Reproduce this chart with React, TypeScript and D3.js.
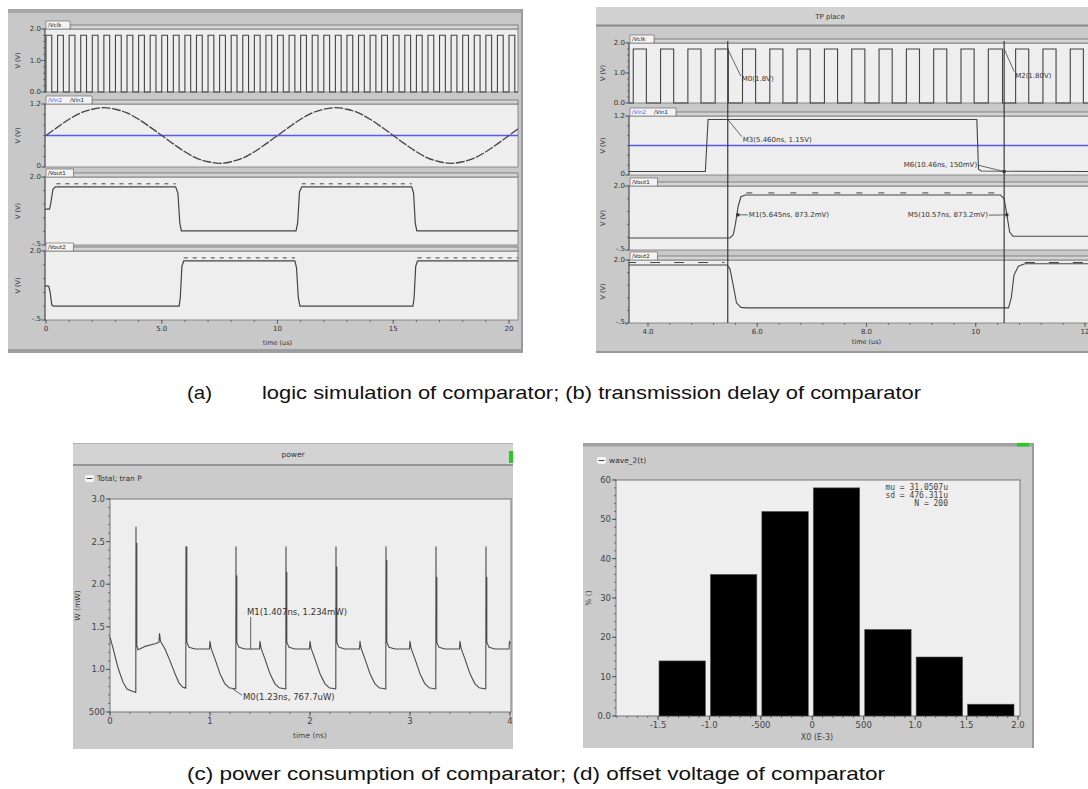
import React from "react";
import * as d3 from "d3";

type P = [number, number];
type Tick = [number, string];

// ---------------- (a) logic simulation ----------------
const clkPulsesA: P[] = [
  [0, 0.25], [0.5, 0.75], [1, 1.25], [1.5, 1.75], [2, 2.25], [2.5, 2.75], [3, 3.25], [3.5, 3.75],
  [4, 4.25], [4.5, 4.75], [5, 5.25], [5.5, 5.75], [6, 6.25], [6.5, 6.75], [7, 7.25], [7.5, 7.75],
  [8, 8.25], [8.5, 8.75], [9, 9.25], [9.5, 9.75], [10, 10.25], [10.5, 10.75], [11, 11.25], [11.5, 11.75],
  [12, 12.25], [12.5, 12.75], [13, 13.25], [13.5, 13.75], [14, 14.25], [14.5, 14.75], [15, 15.25], [15.5, 15.75],
  [16, 16.25], [16.5, 16.75], [17, 17.25], [17.5, 17.75], [18, 18.25], [18.5, 18.75], [19, 19.25], [19.5, 19.75],
  [20, 20.25],
];
const vinA: P[] = [
  [0, 0.6], [0.5, 0.76], [1, 0.91], [1.5, 1.03], [2, 1.1], [2.5, 1.13], [3, 1.1], [3.5, 1.03], [4, 0.91], [4.5, 0.76],
  [5, 0.6], [5.5, 0.44], [6, 0.29], [6.5, 0.17], [7, 0.1], [7.5, 0.07], [8, 0.1], [8.5, 0.17], [9, 0.29], [9.5, 0.44],
  [10, 0.6], [10.5, 0.76], [11, 0.91], [11.5, 1.03], [12, 1.1], [12.5, 1.13], [13, 1.1], [13.5, 1.03], [14, 0.91], [14.5, 0.76],
  [15, 0.6], [15.5, 0.44], [16, 0.29], [16.5, 0.17], [17, 0.1], [17.5, 0.07], [18, 0.1], [18.5, 0.17], [19, 0.29], [19.5, 0.44],
  [20, 0.6], [20.4, 0.73],
];
const vrefA = 0.6;
const vout1A: P[] = [
  [-0.1, 0.82], [0.15, 0.82], [0.2, 1.0], [0.3, 1.55], [0.4, 1.64], [5.6, 1.64], [5.7, 1.4], [5.78, 0.3], [5.85, 0.02],
  [10.8, 0.02], [10.87, 0.3], [10.95, 1.45], [11.05, 1.64], [15.8, 1.64], [15.88, 1.4], [15.95, 0.3], [16.02, 0.02], [20.5, 0.02],
];
const vout1RippleA: P[] = [[0.45, 5.6], [11.05, 15.8]];
const vout2A: P[] = [
  [-0.1, 0.75], [0.12, 0.72], [0.18, 0.5], [0.25, 0.05], [0.32, 0.0], [5.75, 0.0], [5.8, 0.3], [5.87, 1.45], [5.95, 1.64],
  [10.75, 1.64], [10.82, 1.4], [10.9, 0.3], [10.97, 0.0], [15.85, 0.0], [15.9, 0.3], [15.97, 1.45], [16.05, 1.64], [20.5, 1.64],
];
const vout2RippleA: P[] = [[5.95, 10.75], [16.05, 20.5]];
const xTicksA: Tick[] = [[0, "0"], [5, "5.0"], [10, "10"], [15, "15"], [20, "20"]];

// ---------------- (b) transmission delay ----------------
const clkPulsesB: P[] = [
  [3.73, 3.97], [4.23, 4.47], [4.73, 4.97], [5.23, 5.47], [5.73, 5.97], [6.23, 6.47], [6.73, 6.97], [7.23, 7.47],
  [7.73, 7.97], [8.23, 8.47], [8.73, 8.97], [9.23, 9.47], [9.73, 9.97], [10.23, 10.49], [10.73, 10.97], [11.23, 11.47],
  [11.73, 11.97], [12.23, 12.47],
];
const vinB: P[] = [
  [3.5, 0.07], [5.05, 0.07], [5.1, 1.13], [10.02, 1.13], [10.05, 0.12], [10.1, 0.08], [12.5, 0.07],
];
const vrefB = 0.6;
const vout1B: P[] = [
  [3.5, -0.03], [5.5, -0.03], [5.56, 0.1], [5.6, 0.5], [5.65, 1.2], [5.7, 1.58], [5.78, 1.65], [10.45, 1.65],
  [10.52, 1.5], [10.57, 0.87], [10.62, 0.2], [10.68, 0.04], [12.5, 0.04],
];
const vout1RippleB: P[] = [[5.8, 10.45]];
const vout2B: P[] = [
  [3.5, 1.8], [5.45, 1.8], [5.5, 1.65], [5.56, 1.0], [5.62, 0.3], [5.7, 0.12], [5.8, 0.1], [10.6, 0.1],
  [10.65, 0.5], [10.7, 1.4], [10.78, 1.75], [10.9, 1.85], [12.5, 1.85],
];
const vout2RippleB: P[] = [[3.6, 5.4], [10.9, 12.5]];
const cursorsB = [5.46, 10.52];
const xTicksB: Tick[] = [[4, "4.0"], [6, "6.0"], [8, "8.0"], [10, "10"], [12, "12"]];

// ---------------- (c) power consumption ----------------
const powerPts: P[] = [
  [0, 1.38], [0.03, 1.25], [0.08, 1.02], [0.13, 0.85], [0.17, 0.77], [0.21, 0.75], [0.258, 0.73],
  [0.26, 2.67], [0.26, 2.48], [0.268, 2.48], [0.268, 1.28], [0.28, 1.23], [0.35, 1.27], [0.45, 1.3], [0.49, 1.32], [0.495, 1.42], [0.505, 1.33], [0.55, 1.24], [0.6, 1.1], [0.65, 0.95], [0.69, 0.84], [0.73, 0.79], [0.758, 0.78],
  [0.76, 2.44], [0.76, 2.44], [0.768, 2.44], [0.768, 1.32], [0.79, 1.26], [0.85, 1.24], [0.995, 1.24], [1.0, 1.33], [1.01, 1.25], [1.05, 1.12], [1.1, 0.95], [1.15, 0.83], [1.19, 0.785], [1.258, 0.77],
  [1.26, 2.44], [1.26, 2.1], [1.268, 2.1], [1.268, 1.32], [1.29, 1.26], [1.35, 1.24], [1.495, 1.24], [1.5, 1.33], [1.51, 1.25], [1.55, 1.12], [1.6, 0.95], [1.65, 0.83], [1.69, 0.785], [1.758, 0.77],
  [1.76, 2.44], [1.76, 2.14], [1.768, 2.14], [1.768, 1.32], [1.79, 1.26], [1.85, 1.24], [1.995, 1.24], [2.0, 1.33], [2.01, 1.25], [2.05, 1.12], [2.1, 0.95], [2.15, 0.83], [2.19, 0.785], [2.258, 0.77],
  [2.26, 2.44], [2.26, 2.2], [2.268, 2.2], [2.268, 1.32], [2.29, 1.26], [2.35, 1.24], [2.495, 1.24], [2.5, 1.33], [2.51, 1.25], [2.55, 1.12], [2.6, 0.95], [2.65, 0.83], [2.69, 0.785], [2.758, 0.77],
  [2.76, 2.44], [2.76, 2.28], [2.768, 2.28], [2.768, 1.32], [2.79, 1.26], [2.85, 1.24], [2.995, 1.24], [3.0, 1.33], [3.01, 1.25], [3.05, 1.12], [3.1, 0.95], [3.15, 0.83], [3.19, 0.785], [3.258, 0.77],
  [3.26, 2.44], [3.26, 2.08], [3.268, 2.08], [3.268, 1.32], [3.29, 1.26], [3.35, 1.24], [3.495, 1.24], [3.5, 1.33], [3.51, 1.25], [3.55, 1.12], [3.6, 0.95], [3.65, 0.83], [3.69, 0.785], [3.758, 0.77],
  [3.76, 2.44], [3.76, 2.08], [3.768, 2.08], [3.768, 1.32], [3.79, 1.26], [3.85, 1.24], [3.99, 1.24], [3.995, 1.33], [4.0, 1.3],
];
const powerYTicks: Tick[] = [[3.0, "3.0"], [2.5, "2.5"], [2.0, "2.0"], [1.5, "1.5"], [1.0, "1.0"], [0.5, "500"]];
const powerXTicks: Tick[] = [[0, "0"], [1, "1"], [2, "2"], [3, "3"], [4, "4"]];
const markerM0: P = [1.23, 0.7677];
const markerM1: P = [1.407, 1.234];

// ---------------- (d) offset voltage histogram ----------------
const binStarts = [-1.5, -1.0, -0.5, 0, 0.5, 1.0, 1.5];
const binCounts = [14, 36, 52, 58, 22, 15, 3];
const binWidth = 0.5;
const histXTicks: Tick[] = [[-1.5, "-1.5"], [-1.0, "-1.0"], [-0.5, "-500"], [0, "0"], [0.5, "500"], [1.0, "1.0"], [1.5, "1.5"], [2.0, "2.0"]];
const histYTicks: Tick[] = [[0, "0.0"], [10, "10"], [20, "20"], [30, "30"], [40, "40"], [50, "50"], [60, "60"]];
const histStats = ["mu = 31.0507u", "sd = 476.311u", "N = 200"];

const FS = "'DejaVu Sans', sans-serif";
const AX = "#555";
const WAVE = "#444";
const BLUE = "#5858f0";

function lineOf(pts: P[], x: d3.ScaleLinear<number, number>, y: d3.ScaleLinear<number, number>) {
  return d3.line<P>().x((d) => x(d[0])).y((d) => y(d[1]))(pts) || "";
}
function clockPts(pulses: P[], t0: number, t1: number, hi: number): P[] {
  const pts: P[] = [[t0, 0]];
  for (const [r, f] of pulses) pts.push([r, 0], [r, hi], [f, hi], [f, 0]);
  pts.push([t1, 0]);
  return pts;
}

interface SubProps {
  id: string; xl: number; xr: number; top: number; bottom: number;
  y: d3.ScaleLinear<number, number>; ticks: Tick[]; minor: number[];
  tabs: { t: string; c: string }[]; labX: number; fs: number;
  children?: React.ReactNode;
}
function Sub(p: SubProps) {
  const { xl, xr, top, bottom, y } = p;
  let cx = xl + 3;
  const tabTexts = p.tabs.map((tb, i) => {
    const el = (
      <text key={i} x={cx} y={top - 2} fontSize={5.5} fill={tb.c} fontFamily={FS}>{tb.t}</text>
    );
    cx += tb.t.length * 3.4 + 5;
    return el;
  });
  const tabW = cx - xl;
  return (
    <g>
      <defs>
        <clipPath id={p.id}>
          <rect x={xl} y={top - 1} width={xr - xl} height={bottom - top + 2} />
        </clipPath>
      </defs>
      <rect x={xl} y={top} width={xr - xl} height={bottom - top} fill="#eeeeee" stroke="#777" strokeWidth={0.8} />
      <rect x={xl + tabW} y={top - 4} width={xr - xl - tabW} height={4} fill="#d4d4d4" stroke="#6e6e6e" strokeWidth={0.8} />
      <rect x={xl + 1} y={top - 8} width={tabW - 1} height={8} fill="#f3f3f3" stroke="#707070" strokeWidth={0.7} />
      {tabTexts}
      <line x1={xl} x2={xl} y1={top} y2={bottom} stroke={AX} strokeWidth={1} />
      {p.minor.map((v, i) => (
        <line key={i} x1={xl - 2} x2={xl} y1={y(v)} y2={y(v)} stroke={AX} strokeWidth={0.8} />
      ))}
      {p.ticks.map(([v, s], i) => (
        <g key={i}>
          <line x1={xl - 4} x2={xl} y1={y(v)} y2={y(v)} stroke={AX} strokeWidth={0.8} />
          <text x={xl - 4} y={y(v)} dy={i === p.ticks.length - 1 && p.ticks.length === 2 ? "0.1em" : "0.35em"} textAnchor="end" fontSize={p.fs} fill="#333" fontFamily={FS}>{s}</text>
        </g>
      ))}
      <text transform={`translate(${p.labX},${(top + bottom) / 2}) rotate(-90)`} textAnchor="middle" fontSize={6.5} fill="#333" fontFamily={FS}>V (V)</text>
      <g clipPath={`url(#${p.id})`}>{p.children}</g>
    </g>
  );
}

function Ripple({ segs, level, x, y, dash }: { segs: P[]; level: number; x: d3.ScaleLinear<number, number>; y: d3.ScaleLinear<number, number>; dash: string }) {
  return (
    <g>
      {segs.map(([a, b], i) => (
        <line key={i} x1={x(a)} x2={x(b)} y1={y(level)} y2={y(level)} stroke={WAVE} strokeWidth={1} strokeDasharray={dash} />
      ))}
    </g>
  );
}

function XAxis({ x, y0, t0, t1, ticks, minorStep, fs, label, labelY }: { x: d3.ScaleLinear<number, number>; y0: number; t0: number; t1: number; ticks: Tick[]; minorStep: number; fs: number; label: string; labelY: number }) {
  const minor = d3.range(Math.ceil(t0 / minorStep) * minorStep, t1 + 1e-9, minorStep);
  const [r0, r1] = x.range();
  return (
    <g>
      {minor.map((v, i) => (
        <line key={i} x1={x(v)} x2={x(v)} y1={y0} y2={y0 + 2} stroke={AX} strokeWidth={0.8} />
      ))}
      {ticks.map(([v, s], i) => (
        <g key={i}>
          <line x1={x(v)} x2={x(v)} y1={y0} y2={y0 + 4} stroke={AX} strokeWidth={0.8} />
          <text x={x(v)} y={y0 + 6} dy="0.75em" textAnchor="middle" fontSize={fs} fill="#333" fontFamily={FS}>{s}</text>
        </g>
      ))}
      <text x={(r0 + r1) / 2} y={labelY} textAnchor="middle" fontSize={6.5} fill="#333" fontFamily={FS}>{label}</text>
    </g>
  );
}

function PanelA() {
  const xl = 45, xr = 518;
  const x = d3.scaleLinear().domain([0, 20]).range([46, 509]);
  const y1 = d3.scaleLinear().domain([0, 2]).range([92, 29]);
  const y2 = d3.scaleLinear().domain([0, 1.2]).range([167, 104]);
  const y3 = d3.scaleLinear().domain([-0.5, 2]).range([245, 177]);
  const y4 = d3.scaleLinear().domain([-0.5, 2]).range([320, 251]);
  const fs = 7;
  return (
    <g>
      <rect x={8} y={9} width={515} height={343} fill="#c8c8c8" />
      <rect x={8} y={9} width={515} height={4} fill="#a6a6a6" />
      <rect x={8} y={349} width={515} height={4} fill="#9e9e9e" />
      <line x1={522} x2={522} y1={9} y2={353} stroke="#9a9a9a" strokeWidth={2} />
      <Sub id="a1" xl={xl} xr={xr} top={29} bottom={92} y={y1} ticks={[[2, "2.0"], [1, "1.0"], [0, "0.0"]]} minor={d3.range(0, 2.01, 0.2)} tabs={[{ t: "/Vclk", c: "#222" }]} labX={20} fs={fs}>
        <path d={lineOf(clockPts(clkPulsesA, -0.2, 20.6, 1.8), x, y1)} fill="none" stroke={WAVE} strokeWidth={1.1} />
      </Sub>
      <Sub id="a2" xl={xl} xr={xr} top={104} bottom={167} y={y2} ticks={[[1.2, "1.2"], [0, "0"]]} minor={d3.range(0, 1.21, 0.2)} tabs={[{ t: "/Vin2", c: BLUE }, { t: "/Vin1", c: "#222" }]} labX={20} fs={fs}>
        <line x1={xl} x2={xr} y1={y2(vrefA)} y2={y2(vrefA)} stroke={BLUE} strokeWidth={1.4} />
        <path d={d3.line<P>().x((d) => x(d[0])).y((d) => y2(d[1])).curve(d3.curveCatmullRom)(vinA) || ""} fill="none" stroke={WAVE} strokeWidth={1.3} strokeDasharray="9 1.5" />
      </Sub>
      <Sub id="a3" xl={xl} xr={xr} top={177} bottom={245} y={y3} ticks={[[2, "2.0"], [-0.5, "-.5"]]} minor={d3.range(-0.5, 2.01, 0.5)} tabs={[{ t: "/Vout1", c: "#222" }]} labX={20} fs={fs}>
        <Ripple segs={vout1RippleA} level={1.75} x={x} y={y3} dash="4 5" />
        <path d={lineOf(vout1A, x, y3)} fill="none" stroke={WAVE} strokeWidth={1.2} />
      </Sub>
      <Sub id="a4" xl={xl} xr={xr} top={251} bottom={320} y={y4} ticks={[[2, "2.0"], [-0.5, "-.5"]]} minor={d3.range(-0.5, 2.01, 0.5)} tabs={[{ t: "/Vout2", c: "#222" }]} labX={20} fs={fs}>
        <Ripple segs={vout2RippleA} level={1.75} x={x} y={y4} dash="4 5" />
        <path d={lineOf(vout2A, x, y4)} fill="none" stroke={WAVE} strokeWidth={1.2} />
      </Sub>
      <XAxis x={x} y0={320} t0={0} t1={20} ticks={xTicksA} minorStep={1} fs={fs} label="time (us)" labelY={345} />
    </g>
  );
}

function PanelB() {
  const xl = 629, xr = 1100;
  const x = d3.scaleLinear().domain([4, 12]).range([648, 1085]);
  const y1 = d3.scaleLinear().domain([0, 2]).range([103, 43]);
  const y2 = d3.scaleLinear().domain([0, 1.2]).range([175, 116]);
  const y3 = d3.scaleLinear().domain([-0.5, 2]).range([250, 186]);
  const y4 = d3.scaleLinear().domain([-0.5, 2]).range([323, 260]);
  const fs = 7;
  const mfs = 7;
  const c1 = x(cursorsB[0]);
  const c2 = x(cursorsB[1]);
  return (
    <g>
      <rect x={596} y={7} width={500} height={346} fill="#c9c9c9" />
      <rect x={596} y={7} width={500} height={18} fill="#d2d2d2" />
      <line x1={596} x2={1096} y1={25.5} y2={25.5} stroke="#8a8a8a" strokeWidth={2} />
      <line x1={596} x2={1096} y1={352} y2={352} stroke="#9a9a9a" strokeWidth={2} />
      <text x={830} y={19} textAnchor="middle" fontSize={7} fill="#333" fontFamily={FS}>TP place</text>
      <Sub id="b1" xl={xl} xr={xr} top={43} bottom={103} y={y1} ticks={[[2, "2.0"], [1, "1.0"], [0, "0.0"]]} minor={d3.range(0, 2.01, 0.2)} tabs={[{ t: "/Vclk", c: "#222" }]} labX={605} fs={fs}>
        <path d={lineOf(clockPts(clkPulsesB, 3.5, 12.6, 1.8), x, y1)} fill="none" stroke={WAVE} strokeWidth={1.1} />
      </Sub>
      <Sub id="b2" xl={xl} xr={xr} top={116} bottom={175} y={y2} ticks={[[1.2, "1.2"], [0, "0"]]} minor={d3.range(0, 1.21, 0.2)} tabs={[{ t: "/Vin2", c: BLUE }, { t: "/Vin1", c: "#222" }]} labX={605} fs={fs}>
        <line x1={xl} x2={xr} y1={y2(vrefB)} y2={y2(vrefB)} stroke={BLUE} strokeWidth={1.4} />
        <path d={lineOf(vinB, x, y2)} fill="none" stroke={WAVE} strokeWidth={1.1} />
      </Sub>
      <Sub id="b3" xl={xl} xr={xr} top={186} bottom={250} y={y3} ticks={[[2, "2.0"], [-0.5, "-.5"]]} minor={d3.range(-0.5, 2.01, 0.5)} tabs={[{ t: "/Vout1", c: "#222" }]} labX={605} fs={fs}>
        <Ripple segs={vout1RippleB} level={1.73} x={x} y={y3} dash="6 16" />
        <path d={lineOf(vout1B, x, y3)} fill="none" stroke={WAVE} strokeWidth={1.1} />
      </Sub>
      <Sub id="b4" xl={xl} xr={xr} top={260} bottom={323} y={y4} ticks={[[2, "2.0"], [-0.5, "-.5"]]} minor={d3.range(-0.5, 2.01, 0.5)} tabs={[{ t: "/Vout2", c: "#222" }]} labX={605} fs={fs}>
        <Ripple segs={vout2RippleB} level={1.9} x={x} y={y4} dash="10 14" />
        <path d={lineOf(vout2B, x, y4)} fill="none" stroke={WAVE} strokeWidth={1.1} />
      </Sub>
      <XAxis x={x} y0={323} t0={3.6} t1={12.2} ticks={xTicksB} minorStep={0.4} fs={fs} label="time (us)" labelY={344} />
      <line x1={c1} x2={c1} y1={41} y2={323} stroke="#3a3a3a" strokeWidth={1.2} />
      <line x1={c2} x2={c2} y1={41} y2={323} stroke="#3a3a3a" strokeWidth={1.2} />
      <g fontFamily={FS} fontSize={mfs} fill="#333">
        <line x1={c1} y1={y1(1.8)} x2={c1 + 13} y2={y1(0.9)} stroke="#444" strokeWidth={0.8} />
        <text x={c1 + 14} y={y1(0.75)}>M0(1.8V)</text>
        <line x1={c2} y1={y1(1.8)} x2={c2 + 10} y2={y1(1.05)} stroke="#444" strokeWidth={0.8} />
        <text x={c2 + 11} y={y1(0.85)}>M2(1.80V)</text>
        <line x1={c1} y1={y2(1.13)} x2={c1 + 14} y2={y2(0.78)} stroke="#444" strokeWidth={0.8} />
        <text x={c1 + 15} y={y2(0.68)}>M3(5.460ns, 1.15V)</text>
        <line x1={c2 - 26} y1={y2(0.2)} x2={c2} y2={y2(0.07)} stroke="#444" strokeWidth={0.8} />
        <text x={c2 - 27} y={y2(0.17)} textAnchor="end">M6(10.46ns, 150mV)</text>
        <rect x={c2 - 1.5} y={y2(0.07) - 1.5} width={3} height={3} fill="#333" />
        <line x1={x(5.645)} y1={y3(0.873)} x2={x(5.645) + 10} y2={y3(0.873)} stroke="#444" strokeWidth={0.8} />
        <rect x={x(5.645) - 1.5} y={y3(0.873) - 1.5} width={3} height={3} fill="#333" />
        <text x={x(5.645) + 11} y={y3(0.873) + 2.5}>M1(5.645ns, 873.2mV)</text>
        <line x1={x(10.57)} y1={y3(0.873)} x2={x(10.57) - 18} y2={y3(0.86)} stroke="#444" strokeWidth={0.8} />
        <rect x={x(10.57) - 1.5} y={y3(0.873) - 1.5} width={3} height={3} fill="#333" />
        <text x={x(10.57) - 19} y={y3(0.873) + 2.5} textAnchor="end">M5(10.57ns, 873.2mV)</text>
      </g>
    </g>
  );
}

function PanelC() {
  const xl = 110, xr = 511, top = 499, bottom = 712;
  const x = d3.scaleLinear().domain([0, 4]).range([110, 510]);
  const y = d3.scaleLinear().domain([0.5, 3.0]).range([712, 499]);
  const fs = 8.5;
  const yMinor = d3.range(0.5, 3.001, 0.1);
  const xMinor = d3.range(0, 4.001, 0.2);
  const m0 = [x(markerM0[0]), y(markerM0[1])];
  const m1 = [x(markerM1[0]), y(markerM1[1])];
  return (
    <g fontFamily={FS}>
      <rect x={73} y={443} width={440} height={306} fill="#cbcbcb" />
      <rect x={73} y={443} width={440} height={21} fill="#d3d3d3" />
      <line x1={73} x2={513} y1={443.5} y2={443.5} stroke="#b0b0b0" />
      <line x1={73} x2={513} y1={465} y2={465} stroke="#959595" strokeWidth={2} />
      <rect x={509} y={451} width={4} height={12} fill="#22cc22" />
      <text x={293} y={457} textAnchor="middle" fontSize={7.5} fill="#333">power</text>
      <rect x={85} y={475} width={9} height={7} rx={2} fill="#f5f5f5" />
      <line x1={86.5} x2={92.5} y1={478.5} y2={478.5} stroke="#444" strokeWidth={1} />
      <text x={97} y={481} fontSize={7.5} fill="#333">Total; tran P</text>
      <rect x={xl} y={top} width={xr - xl} height={bottom - top} fill="#eeeeee" stroke="#777" strokeWidth={1} />
      {yMinor.map((v, i) => <line key={i} x1={xl - 2} x2={xl} y1={y(v)} y2={y(v)} stroke={AX} strokeWidth={0.8} />)}
      {powerYTicks.map(([v, s], i) => (
        <g key={i}>
          <line x1={xl - 4} x2={xl} y1={y(v)} y2={y(v)} stroke={AX} />
          <text x={xl - 5} y={y(v)} dy="0.35em" textAnchor="end" fontSize={fs} fill="#444">{s}</text>
        </g>
      ))}
      {xMinor.map((v, i) => <line key={i} x1={x(v)} x2={x(v)} y1={bottom} y2={bottom + 2} stroke={AX} strokeWidth={0.8} />)}
      {powerXTicks.map(([v, s], i) => (
        <g key={i}>
          <line x1={x(v)} x2={x(v)} y1={bottom} y2={bottom + 4} stroke={AX} />
          <text x={x(v)} y={bottom + 6} dy="0.75em" textAnchor="middle" fontSize={fs} fill="#444">{s}</text>
        </g>
      ))}
      <text x={310} y={738} textAnchor="middle" fontSize={7.5} fill="#444">time (ns)</text>
      <text transform={`translate(80,${(top + bottom) / 2}) rotate(-90)`} textAnchor="middle" fontSize={7.5} fill="#444">W (mW)</text>
      <path d={lineOf(powerPts, x, y)} fill="none" stroke="#4a4a4a" strokeWidth={1.1} strokeLinejoin="round" />
      <line x1={m1[0]} x2={m1[0]} y1={m1[1]} y2={617} stroke="#555" strokeWidth={0.9} />
      <text x={247} y={615} fontSize={fs} fill="#333">M1(1.407ns, 1.234mW)</text>
      <line x1={m0[0]} y1={m0[1]} x2={m0[0] + 9} y2={m0[1] + 6} stroke="#555" strokeWidth={0.9} />
      <text x={m0[0] + 10} y={m0[1] + 11} fontSize={fs} fill="#333">M0(1.23ns, 767.7uW)</text>
    </g>
  );
}

function PanelD() {
  const xl = 616, xr = 1020, top = 480, bottom = 716;
  const x = d3.scaleLinear().domain([-1.5, 2.0]).range([658, 1018]);
  const y = d3.scaleLinear().domain([0, 60]).range([716, 480]);
  const fs = 8.5;
  const yMinor = d3.range(0, 60.01, 2);
  const xMinor = d3.range(-1.9, 2.001, 0.1);
  return (
    <g fontFamily={FS}>
      <rect x={583} y={443} width={451} height={305} fill="#cbcbcb" />
      <rect x={583} y={443} width={451} height={3.5} fill="#a0a0a0" />
      <rect x={1017} y={443} width={12} height={3.5} fill="#22cc22" />
      <line x1={1033} x2={1033} y1={443} y2={748} stroke="#9a9a9a" strokeWidth={2} />
      <rect x={597} y={457} width={9} height={7} rx={2} fill="#f5f5f5" />
      <line x1={598.5} x2={604.5} y1={460.5} y2={460.5} stroke="#444" strokeWidth={1} />
      <text x={609} y={463} fontSize={7.5} fill="#333">wave_2(t)</text>
      <rect x={xl} y={top} width={xr - xl} height={bottom - top} fill="#eeeeee" stroke="#777" strokeWidth={1} />
      {binStarts.map((b, i) => (
        <rect key={i} x={x(b) + 1} y={y(binCounts[i])} width={x(b + binWidth) - x(b) - 5} height={y(0) - y(binCounts[i])} fill="#000" stroke="#555" strokeWidth={0.6} />
      ))}
      {yMinor.map((v, i) => <line key={i} x1={xl - 2} x2={xl} y1={y(v)} y2={y(v)} stroke={AX} strokeWidth={0.8} />)}
      {histYTicks.map(([v, s], i) => (
        <g key={i}>
          <line x1={xl - 4} x2={xl} y1={y(v)} y2={y(v)} stroke={AX} />
          <text x={xl - 5} y={y(v)} dy="0.35em" textAnchor="end" fontSize={fs} fill="#444">{s}</text>
        </g>
      ))}
      {xMinor.map((v, i) => <line key={i} x1={x(v)} x2={x(v)} y1={bottom} y2={bottom + 2} stroke={AX} strokeWidth={0.8} />)}
      {histXTicks.map(([v, s], i) => (
        <g key={i}>
          <line x1={x(v)} x2={x(v)} y1={bottom} y2={bottom + 4} stroke={AX} />
          <text x={x(v)} y={bottom + 6} dy="0.75em" textAnchor="middle" fontSize={fs} fill="#444">{s}</text>
        </g>
      ))}
      <text x={817} y={740} textAnchor="middle" fontSize={8} fill="#444">X0 (E-3)</text>
      <text transform={`translate(591,${(top + bottom) / 2}) rotate(-90)`} textAnchor="middle" fontSize={7.5} fill="#444">% ()</text>
      {histStats.map((s, i) => (
        <text key={i} x={948} y={490 + i * 8} textAnchor="end" fontSize={8} fill="#444" fontFamily="'DejaVu Sans Mono', monospace">{s}</text>
      ))}
    </g>
  );
}

export default function App() {
  return (
    <div style={{ position: "absolute", left: 0, top: 0 }}>
      <svg width={1088} height={789} style={{ display: "block", background: "#ffffff" }}>
        <PanelA />
        <PanelB />
        <PanelC />
        <PanelD />
        <g fontFamily="'Liberation Sans', Arial, sans-serif" fontSize={19} fill="#111">
          <text x={187} y={399} textLength={25} lengthAdjust="spacingAndGlyphs">(a)</text>
          <text x={262} y={399} textLength={659} lengthAdjust="spacingAndGlyphs">logic simulation of comparator; (b) transmission delay of comparator</text>
          <text x={187} y={780} textLength={698} lengthAdjust="spacingAndGlyphs">(c) power consumption of comparator; (d) offset voltage of comparator</text>
        </g>
      </svg>
    </div>
  );
}
